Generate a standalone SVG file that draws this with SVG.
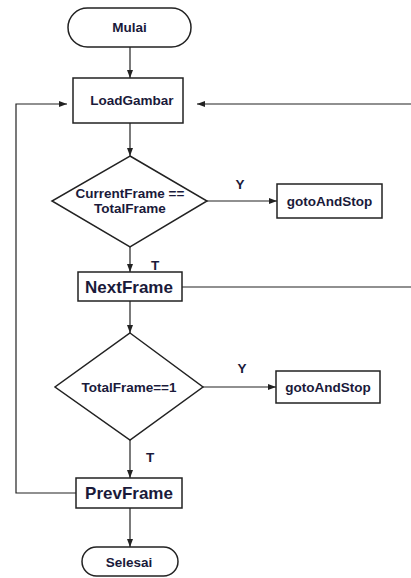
<svg xmlns="http://www.w3.org/2000/svg" width="411" height="578" viewBox="0 0 411 578">
<defs>
<marker id="ah" markerWidth="8" markerHeight="6" refX="8" refY="3" orient="auto" markerUnits="userSpaceOnUse">
<path d="M0,0 L8,3 L0,6 Z" fill="#222"/>
</marker>
<style>
.shape{fill:#fff;stroke:#222;stroke-width:1.5}
.ln{fill:none;stroke:#222;stroke-width:1.2}
.t{font-family:"Liberation Sans",Arial,sans-serif;font-weight:bold;font-size:13.5px;fill:#1a1a3a;text-anchor:middle;dominant-baseline:central}
.tb{font-size:17px}
</style>
</defs>
<rect width="411" height="578" fill="#fff"/>
<g id="connectors">
<line class="ln" x1="130" y1="47" x2="130" y2="78" marker-end="url(#ah)"/>
<line class="ln" x1="130" y1="123" x2="130" y2="156" marker-end="url(#ah)"/>
<line class="ln" x1="207" y1="201" x2="277" y2="201" marker-end="url(#ah)"/>
<line class="ln" x1="130" y1="247" x2="130" y2="272" marker-end="url(#ah)"/>
<line class="ln" x1="130" y1="301" x2="130" y2="333" marker-end="url(#ah)"/>
<line class="ln" x1="203" y1="387" x2="276" y2="387" marker-end="url(#ah)"/>
<line class="ln" x1="130" y1="440" x2="130" y2="478" marker-end="url(#ah)"/>
<line class="ln" x1="130" y1="508" x2="130" y2="547" marker-end="url(#ah)"/>
<polyline class="ln" points="76,493 16,493 16,104 67,104" marker-end="url(#ah)"/>
<line class="ln" x1="182" y1="287" x2="411" y2="287"/>
<line class="ln" x1="411" y1="104" x2="197" y2="104" marker-end="url(#ah)"/>
<text class="t" x="240" y="184">Y</text>
<text class="t" x="155" y="265">T</text>
<text class="t" x="242" y="368">Y</text>
<text class="t" x="150" y="457">T</text>
</g>
<g id="mulai">
<rect class="shape" x="68" y="8" width="123" height="39" rx="19.5"/>
<text class="t" x="129.5" y="27.5">Mulai</text>
</g>
<g id="loadgambar">
<rect class="shape" x="73" y="78" width="110" height="45"/>
<text class="t" x="132" y="100">LoadGambar</text>
</g>
<g id="cek1">
<polygon class="shape" points="130,156 207,201 130,247 52,201"/>
<text class="t" x="130" y="193">CurrentFrame ==</text>
<text class="t" x="130" y="208">TotalFrame</text>
</g>
<g id="goto1">
<rect class="shape" x="277" y="184" width="105" height="34"/>
<text class="t" x="329.5" y="201">gotoAndStop</text>
</g>
<g id="nextframe">
<rect class="shape" x="78" y="272" width="104" height="29"/>
<text class="t tb" x="129" y="287">NextFrame</text>
</g>
<g id="cek2">
<polygon class="shape" points="130,333 203,387 130,440 55,387"/>
<text class="t" x="129" y="387">TotalFrame==1</text>
</g>
<g id="goto2">
<rect class="shape" x="276" y="371" width="104" height="32"/>
<text class="t" x="328" y="387">gotoAndStop</text>
</g>
<g id="prevframe">
<rect class="shape" x="76" y="478" width="106" height="30"/>
<text class="t tb" x="129" y="493">PrevFrame</text>
</g>
<g id="selesai">
<rect class="shape" x="82" y="547" width="96" height="29" rx="14.5"/>
<text class="t" x="129" y="562">Selesai</text>
</g>
</svg>
